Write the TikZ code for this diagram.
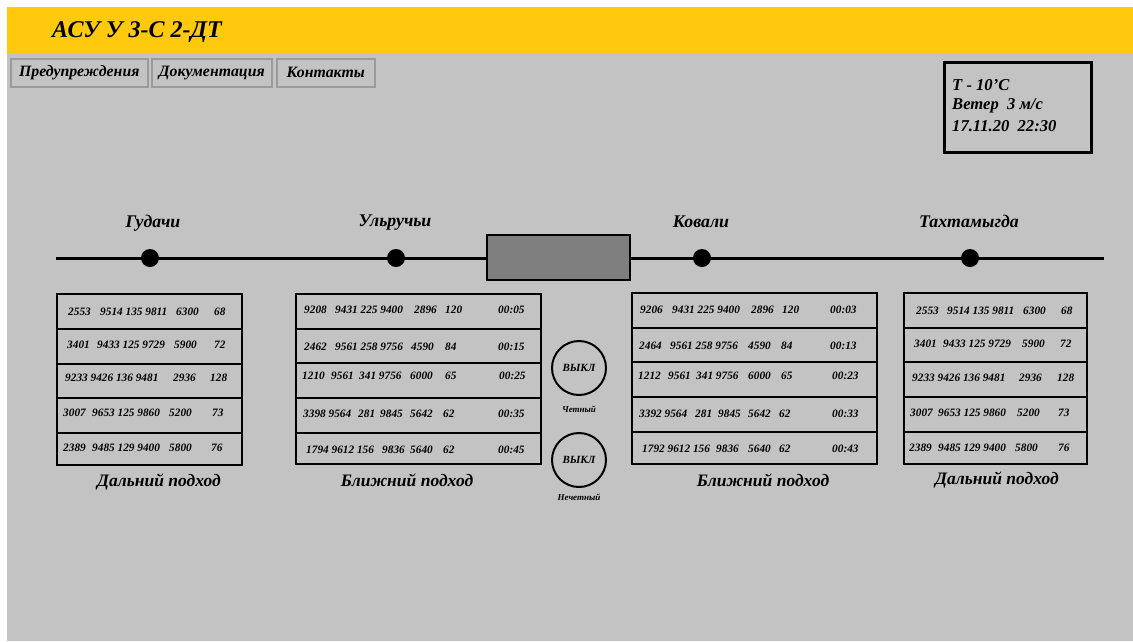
\documentclass[tikz,border=0pt]{standalone}
\usepackage{fontspec}
\setmainfont{Liberation Serif}
\definecolor{panel}{RGB}{195,195,195}
\definecolor{banner}{RGB}{255,201,14}
\definecolor{block}{RGB}{127,127,127}
\definecolor{btnedge}{RGB}{155,155,155}

% one row of table cells: name prefix, baseline-centre y, list of x/text
\newcommand\cells[3]{%
  \foreach \cx/\ct [count=\ci] in {#3}
    \node[num] (#1-\ci) at (\cx,#2) {\ct};}
% stacked row boxes of a table: name, left x, width, list of top/bottom
\newcommand\tablerows[4]{%
  \foreach \ya/\yb [count=\ri] in {#4}
    \node[rowbox, minimum width=#3pt, minimum height={(\yb-\ya)*1pt}]
      (#1-\ri) at (#2,\ya) {};}

\begin{document}
\begin{tikzpicture}[x=1pt, y=-1pt,
  bi/.style={inner sep=0pt, font=\bfseries\itshape\fontsize{#1}{#1}\selectfont},
  num/.style={bi=11.3, anchor=west},
  station/.style={bi=17.8, anchor=base},
  caption/.style={bi=17.5, anchor=base},
  infotext/.style={bi=16.6, anchor=base west},
  button/.style={draw=btnedge, line width=1.5pt, fill=panel, bi=15.8,
    anchor=north west, minimum height=28pt},
  rowbox/.style={draw, line width=2.5pt, anchor=north west, inner sep=0pt,
    outer sep=0pt},
  stop/.style={circle, fill=black, minimum size=18pt, inner sep=0pt},
  switch/.style={circle, draw, line width=2pt, minimum size=54pt, inner sep=0pt,
    bi=11}]
\useasboundingbox (0,0) rectangle (1133,641);
\fill[white] (0,0) rectangle (1133,641);
\fill[panel] (7,7) rectangle (1133,641);
\fill[banner] (7,7) rectangle (1133,53);

% title and menu
\node[bi=24, anchor=base west] (title) at (52,37.5) {АСУ У 3-С 2-ДТ};
\node[button, minimum width=137pt] (warn) at (10,58) {Предупреждения};
\node[button, minimum width=120pt] (docs) at (151,58) {Документация};
\node[button, minimum width=98pt]  (cont) at (276,58) {Контакты};

% weather box
\node[draw, line width=3pt, anchor=north west, minimum width=147pt,
  minimum height=90pt, inner sep=0pt] (info) at (943,61) {};
\node[infotext] (temp) at (952,90) {T - 10'C};
\node[infotext] (wind) at (952,109.5) {Ветер\ \ 3 м/с};
\node[infotext] (date) at (952,131) {17.11.20\ \ 22:30};

% track with stations
\coordinate (trackL) at (56,258);
\coordinate (trackR) at (1104,258);
\draw[line width=3pt] (trackL) -- (trackR);
\node[draw, line width=2pt, fill=block, anchor=north west, minimum width=143pt,
  minimum height=45pt, inner sep=0pt] (block) at (486,234) {};
\node[stop] (s1) at (150,258) {};
\node[stop] (s2) at (396,258) {};
\node[stop] (s3) at (702,258) {};
\node[stop] (s4) at (970,258) {};
\node[station] (n1) at (153,227) {Гудачи};
\node[station] (n2) at (395,226) {Ульручьи};
\node[station] (n3) at (701,227) {Ковали};
\node[station] (n4) at (969,227) {Тахтамыгда};

% far approach, west
\tablerows{fa}{57}{185}{294/329,329/364,364/398,398/433,433/465}
\cells{fa1}{312}{68/2553, 100/9514 135 9811, 176/6300, 214/68}
\cells{fa2}{345}{67/3401, 97/9433 125 9729, 174/5900, 214/72}
\cells{fa3}{378}{65/9233 9426 136 9481, 173/2936, 210/128}
\cells{fa4}{413}{63/3007, 92/9653 125 9860, 169/5200, 212/73}
\cells{fa5}{448}{63/2389, 92/9485 129 9400, 169/5800, 211/76}
\node[caption] (capA) at (159,486) {Дальний подход};

% near approach, west
\tablerows{na}{296}{245}{294/329,329/363,363/398,398/433,433/464}
\cells{na1}{310}{304/9208, 335/9431 225 9400, 414/2896, 445/120, 498/00:05}
\cells{na2}{347}{304/2462, 335/9561 258 9756, 411/4590, 445/84, 498/00:15}
\cells{na3}{376}{302/1210, 331/9561, 359/341 9756, 410/6000, 445/65, 499/00:25}
\cells{na4}{414}{303/3398 9564, 358/281, 380/9845, 410/5642, 443/62, 498/00:35}
\cells{na5}{450}{306/1794 9612 156, 382/9836, 410/5640, 443/62, 498/00:45}
\node[caption] (capB) at (407,486) {Ближний подход};

% switches
\node[switch] (even) at (579,368) {ВЫКЛ};
\node[bi=9] (evenL) at (579,409) {Четный};
\node[switch] (odd) at (579,460) {ВЫКЛ};
\node[bi=9] (oddL) at (579,497) {Нечетный};

% near approach, east
\tablerows{nb}{632}{245}{293/328,328/362,362/397,397/432,432/464}
\cells{nb1}{310}{640/9206, 672/9431 225 9400, 751/2896, 782/120, 830/00:03}
\cells{nb2}{346}{639/2464, 670/9561 258 9756, 748/4590, 781/84, 830/00:13}
\cells{nb3}{376}{638/1212, 668/9561, 696/341 9756, 748/6000, 781/65, 832/00:23}
\cells{nb4}{414}{639/3392 9564, 695/281, 718/9845, 748/5642, 779/62, 832/00:33}
\cells{nb5}{449}{642/1792 9612 156, 716/9836, 748/5640, 779/62, 832/00:43}
\node[caption] (capC) at (763,486) {Ближний подход};

% far approach, east
\tablerows{fb}{904}{183}{293/328,328/362,362/397,397/432,432/464}
\cells{fb1}{311}{916/2553, 947/9514 135 9811, 1023/6300, 1061/68}
\cells{fb2}{344}{914/3401, 943/9433 125 9729, 1022/5900, 1060/72}
\cells{fb3}{378}{912/9233 9426 136 9481, 1019/2936, 1057/128}
\cells{fb4}{413}{910/3007, 938/9653 125 9860, 1017/5200, 1058/73}
\cells{fb5}{448}{909/2389, 938/9485 129 9400, 1015/5800, 1058/76}
\node[caption] (capD) at (997,484) {Дальний подход};
\end{tikzpicture}
\end{document}
